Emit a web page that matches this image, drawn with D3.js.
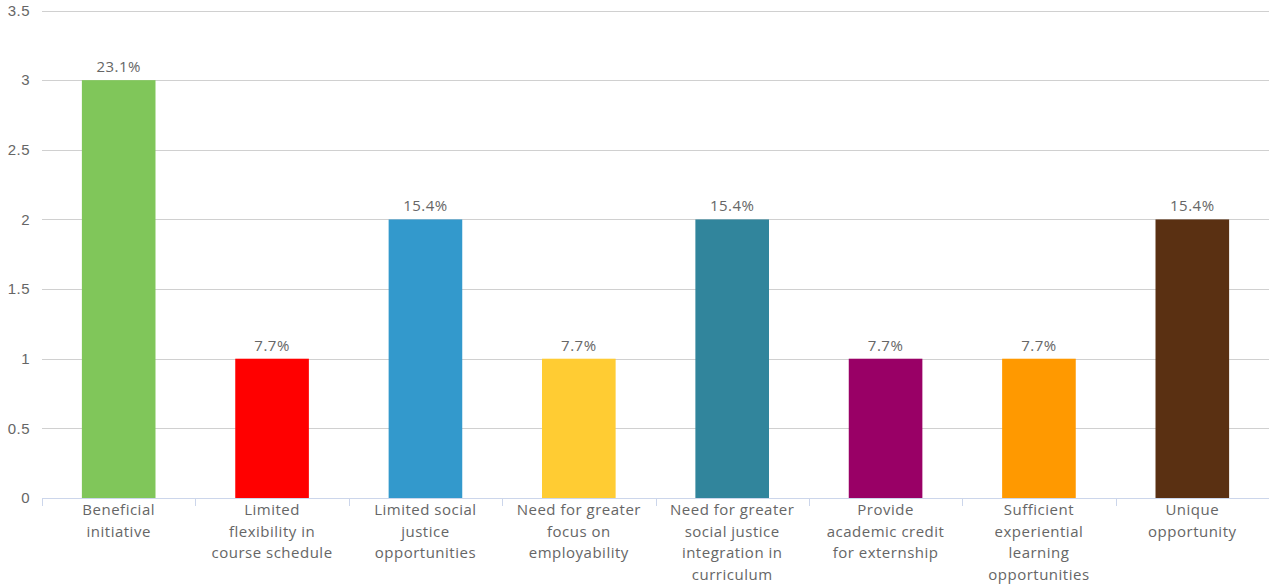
<!DOCTYPE html>
<html><head><meta charset="utf-8">
<script src="https://cdn.jsdelivr.net/npm/d3@7"></script>
<style>body{margin:0;background:#fff}svg{display:block;font-family:"Open Sans","Noto Sans",sans-serif}</style>
</head><body><svg id="c" width="1269" height="585"></svg>
<script>
const categories = ["Beneficial\ninitiative","Limited\nflexibility in\ncourse schedule","Limited social\njustice\nopportunities","Need for greater\nfocus on\nemployability","Need for greater\nsocial justice\nintegration in\ncurriculum","Provide\nacademic credit\nfor externship","Sufficient\nexperiential\nlearning\nopportunities","Unique\nopportunity"];
const values = [3,1,2,1,2,1,1,2];
const dataLabels = ["23.1%","7.7%","15.4%","7.7%","15.4%","7.7%","7.7%","15.4%"];
const colors = ["#80c65a","#ff0000","#3399cc","#ffcc33","#31859c","#990066","#ff9900","#5a3012"];
const yTicks = [0,0.5,1,1.5,2,2.5,3,3.5];

(function(){
const svg = d3.select("#c");
const pL = 42, pR = 1269, pT = 10.5, pB = 498;
const fs = 15, ls = "0.5px";
const x = d3.scaleBand().domain(d3.range(categories.length)).range([pL,pR]).paddingInner(0).paddingOuter(0);
const y = d3.scaleLinear().domain([0,3.5]).range([pB,pT]);

// gridlines
const yAxis = d3.axisLeft(y).tickValues(yTicks).tickSize(-(pR-pL)).tickFormat(d=>d3.format("")(d)).tickPadding(12);
const gy = svg.append("g").attr("transform",`translate(${pL},0)`).call(yAxis);
gy.select(".domain").remove();
gy.selectAll(".tick line").attr("stroke","#d0d0d0").attr("stroke-width",1).attr("shape-rendering","crispEdges");
gy.selectAll(".tick text").attr("fill","#666").attr("font-size",fs).attr("letter-spacing",ls).attr("x",-12);

// bars
const bw = x.bandwidth()*0.6*0.8;
svg.append("g").selectAll("rect").data(values).join("rect")
  .attr("x",(d,i)=>x(i)+x.bandwidth()/2-bw/2)
  .attr("width",bw)
  .attr("y",d=>y(d))
  .attr("height",d=>y(0)-y(d))
  .attr("fill",(d,i)=>colors[i]);

// data labels
svg.append("g").selectAll("text").data(values).join("text")
  .attr("x",(d,i)=>x(i)+x.bandwidth()/2)
  .attr("y",d=>y(d)-8)
  .attr("text-anchor","middle")
  .attr("font-size",fs).attr("letter-spacing",ls)
  .attr("fill","#666")
  .text((d,i)=>dataLabels[i]);

// x axis
const xAxis = d3.axisBottom(x).tickSize(0).tickFormat("");
const gx = svg.append("g").attr("transform",`translate(0,${pB})`).call(xAxis);
gx.select(".domain").attr("stroke","#ccd6eb").attr("d",`M${pL},0.5H${pR}`);
gx.selectAll(".tick").remove();
const bounds = d3.range(categories.length+1).map(i=>pL+i*x.bandwidth());
gx.selectAll("line.tk").data(bounds).join("line").attr("class","tk")
  .attr("x1",d=>Math.round(d)+0.5).attr("x2",d=>Math.round(d)+0.5).attr("y1",0).attr("y2",8)
  .attr("stroke","#ccd6eb");
const lg = svg.append("g");
categories.forEach((c,i)=>{
  const t = lg.append("text").attr("text-anchor","middle").attr("font-size",fs).attr("letter-spacing",ls).attr("fill","#666")
    .attr("x",x(i)+x.bandwidth()/2).attr("y",pB+17);
  c.split("\n").forEach((ln,j)=>t.append("tspan").attr("x",x(i)+x.bandwidth()/2).attr("dy",j?21.5:0).text(ln));
});
})();
</script></body></html>
